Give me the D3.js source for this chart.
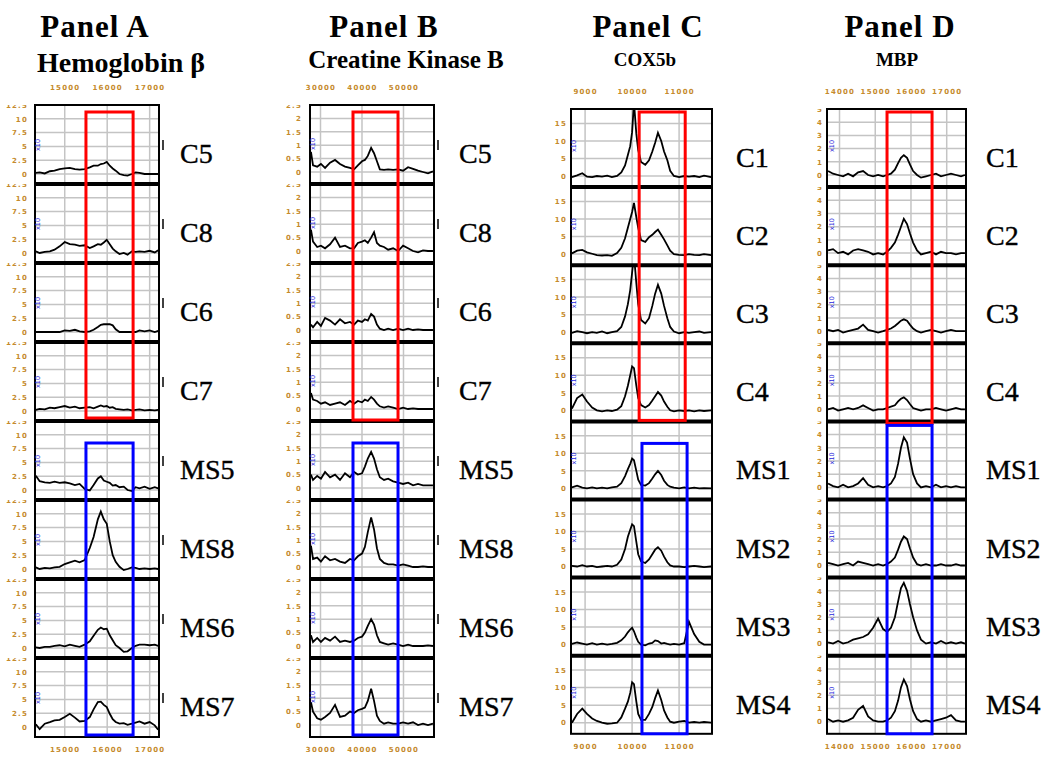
<!DOCTYPE html>
<html>
<head>
<meta charset="utf-8">
<script src="https://cdn.jsdelivr.net/npm/d3@7"></script>
<style>
  body { margin: 0; background: #fff; }
  svg { display: block; }
  .title { font-family: "Liberation Serif", "Times New Roman", serif; font-weight: bold; fill: #000; letter-spacing: 1px; }
  .sample { font-family: "Liberation Serif", "Times New Roman", serif; font-size: 28px; fill: #000; stroke: #000; stroke-width: 0.4px; }
  .tick text { font-family: "DejaVu Sans", sans-serif; font-size: 7px; font-weight: bold; fill: #c58a2c; letter-spacing: 1.2px; }
  .blue-lab { font-family: "DejaVu Sans", sans-serif; font-size: 6.5px; fill: #2a2adc; }
</style>
</head>
<body>
<div id="chart"></div>
<script>
// ---- data ----
const panelTitles = ["Panel A", "Panel B", "Panel C", "Panel D"];
const proteinNames = ["Hemoglobin β", "Creatine Kinase B", "COX5b", "MBP"];

const samplesA = ["C5", "C8", "C6", "C7", "MS5", "MS8", "MS6", "MS7"];
const samplesB = ["C5", "C8", "C6", "C7", "MS5", "MS8", "MS6", "MS7"];
const samplesC = ["C1", "C2", "C3", "C4", "MS1", "MS2", "MS3", "MS4"];
const samplesD = ["C1", "C2", "C3", "C4", "MS1", "MS2", "MS3", "MS4"];

const xTicksA = [15000, 16000, 17000];
const xTicksB = [30000, 40000, 50000];
const xTicksC = [9000, 10000, 11000];
const xTicksD = [14000, 15000, 16000, 17000];

const yTicksA = [0, 2.5, 5, 7.5, 10, 12.5];
const yTicksB = [0, 0.5, 1, 1.5, 2, 2.5];
const yTicksC = [0, 5, 10, 15, 20];
const yTicksD = [0, 1, 2, 3, 4, 5];

// m/z ranges of the red (controls) and blue (MS) boxes
const redA = [15500, 16610], blueA = [15500, 16610];
const redB = [37830, 48680], blueB = [37830, 48680];
const redC = [10150, 11130], blueC = [10210, 11170];
const redD = [15330, 16590], blueD = [15330, 16590];

const massA = [14320, 14410, 14530, 14650, 14760, 14880, 15000, 15120, 15240, 15350, 15470, 15590, 15680, 15780, 15850,
  15920, 15990, 16060, 16130, 16200, 16290, 16390, 16480, 16580, 16670, 16760, 16880, 17000, 17120, 17200];
const spectraA = [
  [0.2, 0.3, 0.1, 0.5, 0.6, 0.9, 1.0, 1.1, 0.9, 0.8, 0.9, 1.2, 1.5, 1.5, 1.8, 1.9, 2.2, 1.5, 1.0, 0.6, 0.0, -0.2, -0.3, 0.0, 0.3, 0.2, 0.0, 0.0, 0.0, 0.0],
  [0.3, 0.0, 0.2, 0.3, 0.6, 1.2, 2.0, 1.6, 1.5, 1.3, 1.4, 0.9, 1.2, 1.6, 1.5, 1.9, 2.4, 1.6, 0.8, 0.3, -0.2, 0.0, -0.3, 0.3, 0.2, 0.3, 0.2, 0.4, 0.1, 0.5],
  [0, 0, 0, 0, 0, 0, 0.3, 0.2, 0.4, 0.1, 0.0, 0.1, 0.4, 0.9, 1.3, 1.4, 1.4, 1.4, 1.2, 0.5, 0.0, 0.0, 0.0, 0.0, 0.0, 0.3, 0.1, 0.3, 0.0, 0.2],
  [0.2, 0.4, 0.3, 0.6, 0.5, 0.7, 0.9, 0.6, 0.8, 0.5, 0.6, 0.7, 0.5, 0.8, 1.0, 0.8, 0.9, 0.6, 0.7, 0.4, 0.3, 0.2, 0.3, 0.1, 0.2, 0.3, 0.1, 0.2, 0.1, 0.2],
  [2.6, 1.6, 1.4, 1.3, 1.5, 1.3, 1.4, 1.2, 0.9, 1.1, 0.2, -0.1, 0.9, 2.1, 2.5, 1.7, 1.5, 1.3, 0.8, 0.9, 0.5, 0.6, 0.0, -0.2, 0.5, 0.3, 0.6, 0.2, 0.5, 0.3],
  [0.3, 0.0, 0.2, 0.1, 0.3, 0.4, 0.9, 1.2, 1.5, 1.2, 1.6, 3.8, 5.8, 9.0, 10.4, 9.0, 8.2, 5.0, 2.5, 1.3, 0.4, -0.2, 0.0, 0.3, 0.2, 0.0, 0.1, 0.0, 0.1, 0.0],
  [0.1, 0.0, 0.2, 0.2, 0.4, 0.5, 0.3, 0.6, 0.4, 0.2, 0.6, 1.2, 2.2, 3.3, 3.7, 3.4, 3.5, 2.3, 1.4, 0.5, 0.0, -0.7, -0.6, 0.0, 0.4, 0.6, 0.6, 0.5, 0.6, 0.4],
  [0.5, -0.4, 0.6, 0.9, 1.2, 1.3, 1.8, 2.4, 1.7, 1.0, 1.1, 1.8, 3.2, 4.5, 4.6, 4.0, 3.6, 2.4, 1.4, 0.9, 0.6, 0.7, 0.4, 0.6, 0.8, 1.0, 0.6, 0.9, 0.3, -0.5]
];

const massB = [27700, 28200, 29200, 30100, 31100, 32300, 33500, 34700, 35900, 37100, 38100, 39000, 40000, 40700, 41400,
  42200, 42900, 43600, 44300, 45300, 46300, 47500, 48700, 49900, 51100, 52300, 53500, 54700, 55900, 57100];
const spectraB = [
  [0.75, 0.25, 0.2, 0.3, 0.15, 0.35, 0.45, 0.3, 0.2, 0.15, 0.1, 0.25, 0.4, 0.45, 0.6, 0.9, 0.7, 0.4, 0.1, 0.08, 0.1, 0.08, 0.1, 0.05, 0.18, 0.12, 0.05, 0.0, -0.05, 0.02],
  [0.8, 0.35, 0.15, 0.2, 0.1, 0.25, 0.5, 0.15, 0.2, 0.1, 0.1, 0.3, 0.35, 0.4, 0.3, 0.5, 0.7, 0.3, 0.2, 0.15, 0.05, 0.1, 0.0, 0.2, 0.1, 0.0, -0.05, 0.02, 0.0, 0.0],
  [0.2, 0.1, 0.3, 0.15, 0.45, 0.35, 0.2, 0.4, 0.25, 0.3, 0.2, 0.35, 0.3, 0.4, 0.35, 0.6, 0.5, 0.2, 0.05, 0.0, 0.05, 0.0, 0.05, 0.0, 0.05, 0.0, 0.02, 0.0, 0.0, 0.0],
  [0.6, 0.35, 0.3, 0.2, 0.25, 0.15, 0.2, 0.25, 0.15, 0.3, 0.2, 0.3, 0.25, 0.35, 0.3, 0.45, 0.35, 0.2, 0.1, 0.05, 0.1, 0.05, 0.0, 0.05, 0.0, 0.02, 0.0, 0.0, 0.0, 0.0],
  [0.5, 0.3, 0.45, 0.35, 0.6, 0.4, 0.5, 0.3, 0.55, 0.4, 0.6, 0.5, 0.55, 0.8, 1.1, 1.35, 1.1, 0.7, 0.4, 0.3, 0.35, 0.25, 0.2, 0.15, 0.2, 0.1, 0.15, 0.1, 0.1, 0.1],
  [0.8, 0.3, 0.35, 0.2, 0.4, 0.25, 0.3, 0.2, 0.15, 0.3, 0.25, 0.4, 0.5, 0.75, 1.3, 1.85, 1.4, 0.7, 0.3, 0.15, 0.1, 0.1, 0.05, 0.1, 0.05, 0.0, 0.0, 0.02, 0.0, 0.0],
  [0.4, 0.15, 0.3, 0.15, 0.3, 0.2, 0.35, 0.15, 0.2, 0.15, 0.2, 0.3, 0.35, 0.5, 0.75, 1.0, 0.8, 0.4, 0.15, 0.1, 0.05, 0.1, 0.05, 0.0, 0.05, 0.0, 0.0, 0.0, 0.02, 0.0],
  [0.85, 0.5, 0.25, 0.2, 0.3, 0.45, 0.75, 0.3, 0.35, 0.5, 0.45, 0.55, 0.6, 0.65, 0.9, 1.35, 0.9, 0.35, 0.15, 0.05, 0.1, 0.05, 0.05, 0.1, 0.05, 0.1, 0.0, 0.05, 0.0, 0.05]
];

const massC = [8720, 8830, 8940, 9040, 9150, 9250, 9360, 9470, 9570, 9680, 9770, 9850, 9910, 9960, 10000, 10040, 10090, 10130,
  10190, 10280, 10360, 10430, 10490, 10550, 10620, 10680, 10750, 10810, 10890, 11000, 11110, 11210, 11320, 11430, 11530, 11680];
const spectraC = [
  [-0.3, 0.2, 0.8, -0.2, -0.3, 0.0, -0.2, 0.1, -0.3, 0.0, 1.0, 3.0, 6.0, 8.5, 12.5, 21.0, 12.0, 7.4, 4.0, 3.2, 4.5, 7.0, 9.5, 12.3, 10.0, 7.0, 4.5, 1.5, 0.0, -0.3, 0.0, -0.2, 0.0, -0.3, 0.1, -0.3],
  [0.2, 1.0, 1.2, 0.5, 0.1, -0.3, -0.4, -0.3, -0.5, 0.3, 1.8, 4.5, 7.5, 10.0, 12.0, 14.6, 10.5, 7.5, 4.0, 3.5, 4.8, 5.5, 6.3, 7.0, 5.5, 4.2, 2.5, 1.0, 0.0, -0.2, -0.3, 0.0, -0.2, -0.3, 0.0, -0.3],
  [-0.2, 0.3, 0.0, -0.3, 0.0, -0.2, 0.2, -0.3, 0.0, 0.3, 1.5, 4.5, 8.0, 12.0, 17.0, 22.0, 14.0, 8.0, 3.5, 2.5, 4.0, 7.5, 11.0, 13.5, 11.0, 7.5, 4.0, 1.5, 0.2, -0.3, 0.0, -0.2, 0.0, 0.2, -0.2, 0.0],
  [0.5, 3.5, 4.5, 2.5, 0.8, 0.0, -0.3, 0.0, -0.2, 0.2, 1.2, 4.0, 7.0, 10.0, 12.5, 12.0, 7.0, 3.5, 1.5, 0.8, 1.5, 2.8, 4.0, 5.2, 4.2, 2.5, 1.0, 0.0, -0.3, 0.0, -0.2, 0.0, -0.3, 0.0, -0.2, 0.0],
  [0.3, 0.8, 0.2, 0.0, 0.3, 0.0, 0.2, 0.0, 0.3, 0.5, 1.5, 3.5, 5.5, 7.0, 8.5, 8.0, 5.0, 2.5, 1.0, 0.8, 1.5, 2.8, 4.0, 5.0, 3.8, 2.2, 1.0, 0.5, 0.2, 0.0, 0.3, 0.0, 0.2, 0.0, 0.1, 0.0],
  [0.2, 0.0, 0.4, 0.0, 0.2, -0.2, 0.0, 0.2, 0.0, 0.5, 2.0, 5.0, 8.5, 10.5, 12.0, 11.5, 7.0, 3.5, 1.5, 1.0, 2.0, 3.5, 4.8, 5.5, 4.5, 2.8, 1.2, 0.3, 0.0, 0.0, -0.2, 0.0, 0.2, 0.0, -0.2, 0.0],
  [0.2, 0.6, 0.3, 0.0, 0.4, 0.0, 0.3, 0.0, 0.2, 0.5, 1.2, 2.3, 3.5, 4.3, 4.8, 3.8, 2.0, 0.8, 0.0, -0.2, 0.3, 0.5, 1.2, 1.0, 0.3, 0.5, 0.2, 0.0, 0.2, 0.0, 0.4, 6.5, 3.0, 0.8, 0.0, 0.0],
  [0.0, 2.5, 4.0, 2.5, 1.2, 0.5, 0.0, -0.3, -0.2, 0.0, 1.5, 4.0, 6.0, 8.5, 11.5, 11.0, 6.0, 2.5, 0.8, 0.8, 2.5, 4.5, 7.0, 9.2, 6.5, 3.5, 1.5, 0.3, 0.0, 0.3, 0.5, 0.0, 0.2, 0.0, 0.2, 0.0]
];

const massD = [13680, 13820, 13960, 14100, 14240, 14380, 14520, 14660, 14800, 14940, 15080, 15220, 15330, 15440, 15550, 15640,
  15720, 15800, 15890, 15970, 16060, 16170, 16280, 16420, 16560, 16700, 16840, 16980, 17120, 17260, 17400, 17510];
const spectraD = [
  [0.3, 0.1, 0.0, -0.1, 0.1, -0.1, 0.2, 0.3, 0.0, -0.1, 0.0, -0.1, 0.0, 0.1, 0.4, 0.9, 1.3, 1.5, 1.3, 0.8, 0.3, 0.0, -0.2, -0.1, 0.0, 0.1, -0.1, 0.0, 0.1, 0.0, -0.1, 0.0],
  [0.2, 0.3, 0.0, 0.1, -0.1, 0.2, 0.3, 0.2, 0.1, -0.1, 0.0, -0.1, 0.1, 0.4, 0.8, 1.4, 2.0, 2.6, 2.2, 1.5, 0.8, 0.2, -0.1, 0.0, 0.1, -0.1, 0.1, 0.0, 0.0, -0.1, 0.0, 0.0],
  [0.1, 0.0, 0.1, -0.1, 0.0, 0.1, 0.2, 0.5, 0.1, 0.0, -0.1, 0.0, 0.1, 0.2, 0.4, 0.6, 0.8, 0.9, 0.8, 0.5, 0.2, 0.0, -0.1, 0.0, 0.1, 0.0, -0.1, 0.0, 0.1, 0.0, 0.0, 0.0],
  [0.0, 0.1, -0.1, 0.0, 0.1, 0.0, 0.1, 0.3, 0.1, -0.1, 0.0, 0.0, 0.1, 0.2, 0.3, 0.6, 0.8, 0.9, 0.7, 0.4, 0.1, 0.0, -0.1, 0.0, 0.0, 0.1, 0.0, -0.1, 0.0, 0.1, 0.0, 0.0],
  [0.3, 0.1, 0.0, 0.2, 0.0, 0.1, 0.3, 0.7, 0.2, 0.0, 0.1, 0.0, 0.1, 0.3, 0.8, 1.8, 3.0, 3.8, 3.4, 2.2, 1.0, 0.3, 0.0, 0.1, 0.0, 0.2, 0.0, 0.1, 0.0, 0.1, 0.0, 0.0],
  [0.2, 0.1, 0.0, 0.1, 0.2, 0.0, 0.3, 0.2, 0.1, 0.0, 0.1, 0.0, 0.1, 0.3, 0.6, 1.2, 1.8, 2.2, 2.0, 1.3, 0.6, 0.1, 0.0, 0.1, 0.0, 0.0, 0.1, 0.0, 0.0, 0.1, 0.0, 0.0],
  [0.1, 0.0, 0.2, 0.0, 0.1, 0.3, 0.4, 0.5, 0.7, 1.2, 1.9, 1.1, 0.9, 1.2, 2.0, 3.2, 4.2, 4.6, 4.0, 3.0, 2.0, 1.0, 0.3, 0.0, 0.1, 0.0, 0.2, 0.0, 0.1, 0.0, 0.1, 0.0],
  [0.2, 0.0, 0.1, 0.0, 0.1, 0.3, 0.9, 1.2, 0.4, 0.1, 0.0, 0.0, 0.1, 0.3, 0.8, 1.6, 2.6, 3.2, 2.7, 1.7, 0.8, 0.2, 0.0, 0.1, 0.0, 0.1, 0.2, 0.3, 0.5, 0.1, 0.0, 0.0]
];

// ---- layout (pixels) ----
const width = 1050, height = 759;
const layouts = [
  { left: 35, right: 159, top: 105, rowH: 79, zeroOff: 69, xDomain: [14300, 17220], yTop: 12.5,
    titleX: 95, subX: 121, subY: 72, subSize: 28, labelX: 180, markX: 163, labGap: 7, blueX: 38, blueOff: 40,
    redY: [7, -3], blueY: [22, -2] },
  { left: 310, right: 434, top: 105, rowH: 79, zeroOff: 67, xDomain: [27470, 57350], yTop: 2.5,
    titleX: 384, subX: 406, subY: 68, subSize: 25, labelX: 459, markX: 438, labGap: 8, blueX: 313, blueOff: 39,
    redY: [7, -1], blueY: [22, -2] },
  { left: 571, right: 712, top: 109, rowH: 78.1, zeroOff: 67, xDomain: [8700, 11700], yTop: 19.1,
    titleX: 648, subX: 645, subY: 66, subSize: 19, labelX: 736, markX: null, labGap: 4, blueX: 574, blueOff: 37,
    redY: [3, -1], blueY: [22, 0] },
  { left: 827, right: 966, top: 109, rowH: 78.1, zeroOff: 66, xDomain: [13650, 17540], yTop: 5,
    titleX: 900, subX: 897, subY: 66, subSize: 19, labelX: 986, markX: null, labGap: 4, blueX: 832, blueOff: 37,
    redY: [3, 2], blueY: [4, 0] }
];

const panels = [
  { samples: samplesA, mass: massA, spectra: spectraA, xTicks: xTicksA, yTicks: yTicksA, red: redA, blue: blueA },
  { samples: samplesB, mass: massB, spectra: spectraB, xTicks: xTicksB, yTicks: yTicksB, red: redB, blue: blueB },
  { samples: samplesC, mass: massC, spectra: spectraC, xTicks: xTicksC, yTicks: yTicksC, red: redC, blue: blueC },
  { samples: samplesD, mass: massD, spectra: spectraD, xTicks: xTicksD, yTicks: yTicksD, red: redD, blue: blueD }
];

const svg = d3.select("#chart").append("svg")
  .attr("width", width)
  .attr("height", height);
const defs = svg.append("defs");

function styleAxis(sel) {
  sel.attr("class", "tick-axis");
  sel.select(".domain").remove();
  sel.selectAll(".tick line").remove();
  sel.selectAll(".tick text").attr("fill", null);
}

panels.forEach((p, pi) => {
  const L = layouts[pi];
  const g = svg.append("g").attr("class", "panel");
  const bottom = L.top + L.rowH * 8;
  const x = d3.scaleLinear().domain(L.xDomain).range([L.left, L.right]);

  // titles
  g.append("text").attr("class", "title")
    .attr("x", L.titleX).attr("y", 37)
    .attr("text-anchor", "middle")
    .style("font-size", "31px")
    .text(panelTitles[pi]);
  g.append("text").attr("class", "title")
    .attr("x", L.subX).attr("y", L.subY)
    .attr("text-anchor", "middle")
    .style("font-size", L.subSize + "px")
    .style("letter-spacing", "0px")
    .text(proteinNames[pi]);

  // m/z tick labels, above and below the stack
  g.append("g")
    .attr("transform", `translate(0,${L.top - 15})`)
    .call(d3.axisTop(x).tickValues(p.xTicks).tickFormat(d3.format("d")).tickSize(0).tickPadding(0))
    .call(styleAxis);
  g.append("g")
    .attr("transform", `translate(0,${bottom + 10})`)
    .call(d3.axisBottom(x).tickValues(p.xTicks).tickFormat(d3.format("d")).tickSize(0).tickPadding(0))
    .call(styleAxis);

  const line = d3.line().x(d => x(d[0]));

  p.spectra.forEach((vals, i) => {
    const top = L.top + i * L.rowH;
    const y = d3.scaleLinear().domain([0, L.yTop]).range([top + L.zeroOff, top]);

    const cid = `clip-${pi}-${i}`;
    defs.append("clipPath").attr("id", cid)
      .append("rect")
      .attr("x", L.left).attr("y", top)
      .attr("width", L.right - L.left).attr("height", L.rowH);
    const lid = `lclip-${pi}-${i}`;
    defs.append("clipPath").attr("id", lid)
      .append("rect")
      .attr("x", 0).attr("y", top)
      .attr("width", L.left).attr("height", L.rowH);

    const inner = g.append("g").attr("clip-path", `url(#${cid})`);

    // grid
    inner.selectAll(".vgrid")
      .data(p.xTicks)
      .join("line")
      .attr("class", "vgrid")
      .attr("x1", d => x(d)).attr("x2", d => x(d))
      .attr("y1", top).attr("y2", top + L.rowH)
      .attr("stroke", "#c4c4c4").attr("stroke-width", 1.5);
    inner.selectAll(".hgrid")
      .data(p.yTicks)
      .join("line")
      .attr("class", "hgrid")
      .attr("x1", L.left).attr("x2", L.right)
      .attr("y1", d => y(d)).attr("y2", d => y(d))
      .attr("stroke", "#c4c4c4").attr("stroke-width", 1.5);

    // spectrum trace
    inner.append("path")
      .datum(vals.map((v, k) => [p.mass[k], v]))
      .attr("fill", "none")
      .attr("stroke", "#000")
      .attr("stroke-width", 1.8)
      .attr("d", line.y(d => y(d[1])));

    // frame
    g.append("rect")
      .attr("x", L.left).attr("y", top)
      .attr("width", L.right - L.left).attr("height", L.rowH)
      .attr("fill", "none").attr("stroke", "#000").attr("stroke-width", 2);
    if (i > 0) {
      g.append("line")
        .attr("x1", L.left).attr("x2", L.right)
        .attr("y1", top).attr("y2", top)
        .attr("stroke", "#000").attr("stroke-width", 4);
    }

    // intensity tick labels (clipped to the row, so the top one is cut)
    g.append("g")
      .attr("clip-path", `url(#${lid})`)
      .append("g")
      .attr("transform", `translate(${L.left - L.labGap},0)`)
      .call(d3.axisLeft(y).tickValues(p.yTicks).tickFormat(d => String(d)).tickSize(0).tickPadding(0))
      .call(styleAxis);

    // small blue multiplier tag
    g.append("text").attr("class", "blue-lab")
      .attr("transform", `translate(${L.blueX + 2},${top + L.blueOff}) rotate(-90)`)
      .attr("text-anchor", "middle")
      .text("x10");

    // little mark right of the frame
    if (L.markX !== null) {
      g.append("line")
        .attr("x1", L.markX).attr("x2", L.markX)
        .attr("y1", top + 35).attr("y2", top + 45)
        .attr("stroke", "#000").attr("stroke-width", 1.5);
    }

    // sample label
    g.append("text").attr("class", "sample")
      .attr("x", L.labelX).attr("y", top + 58)
      .text(p.samples[i]);
  });

  // highlight boxes
  const boxes = [
    { r: p.red, c: "#ff0000", y0: L.top + L.redY[0], y1: L.top + 4 * L.rowH + L.redY[1] },
    { r: p.blue, c: "#0000ff", y0: L.top + 4 * L.rowH + L.blueY[0], y1: bottom + L.blueY[1] }
  ];
  g.selectAll(".hl")
    .data(boxes)
    .join("rect")
    .attr("class", "hl")
    .attr("x", d => x(d.r[0]))
    .attr("width", d => x(d.r[1]) - x(d.r[0]))
    .attr("y", d => d.y0)
    .attr("height", d => d.y1 - d.y0)
    .attr("fill", "none")
    .attr("stroke", d => d.c)
    .attr("stroke-width", 3);
});
</script>
</body>
</html>
